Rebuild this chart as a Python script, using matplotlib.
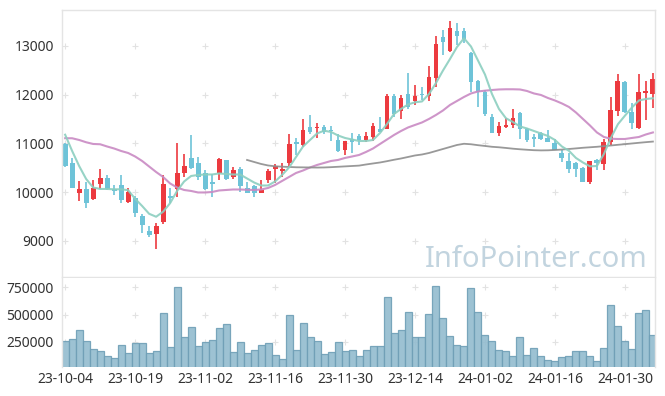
import matplotlib
matplotlib.use("Agg")

import matplotlib.pyplot as plt
import numpy as np


##############################################################
###------------------------data----------------------------###
##############################################################

open_prices  = [10990, 10594, 9991, 10067, 9862, 10169, 10292, 10067, 10149, 9794,
                9876, 9519, 9205, 9150, 9396, 9923, 10060, 10389, 10709, 10606,
                10401, 10216, 10389, 10662, 10319, 10477, 10081, 10128, 9991, 10251,
                10471, 10442, 10594, 11025, 10969, 11338, 11312, 11331, 11277, 11072,
                10867, 11086, 11154, 11072, 11127, 11297, 11303, 11974, 11667, 12015,
                11878, 12009, 11980, 12350, 13178, 12904, 13308, 13308, 12850, 12282,
                12063, 11537, 11222, 11345, 11373, 11632, 11297, 11127, 11222, 11119,
                11017, 10799, 10641, 10594, 10504, 10216, 10662, 10579, 11025, 11673,
                12255, 11652, 11312, 12042, 12009]
high_prices  = [11000, 10696, 10231, 10204, 10251, 10471, 10354, 10149, 10354, 10093,
                9923, 9545, 9308, 9363, 10354, 10081, 11004, 10778, 11174, 10717,
                10456, 10368, 10709, 10670, 10524, 10524, 10210, 10150, 10251, 10471,
                10573, 10594, 11189, 11107, 11496, 11585, 11414, 11380, 11365, 11189,
                11060, 11222, 11195, 11242, 11414, 11537, 12009, 12009, 11995, 12440,
                12200, 12165, 12590, 13211, 13328, 13519, 13466, 13363, 12883, 12300,
                12097, 11605, 11447, 11530, 11702, 11640, 11310, 11195, 11242, 11277,
                11092, 10867, 10811, 10627, 10510, 10650, 10682, 11086, 11960, 12419,
                12290, 11837, 12419, 12288, 12440]
low_prices   = [10510, 10081, 9820, 9683, 9835, 10073, 10046, 9944, 9773, 9773,
                9486, 9158, 9076, 8842, 9349, 9773, 9896, 10307, 10471, 10251,
                10046, 9896, 10251, 10251, 10278, 10005, 9978, 9896, 9980, 10183,
                10183, 10319, 10512, 10764, 10934, 11195, 11107, 11195, 11051, 10832,
                10764, 10811, 10969, 11037, 11058, 11230, 11297, 11550, 11503, 11708,
                11790, 11892, 11872, 12165, 12815, 12883, 13020, 13055, 12050, 11755,
                11570, 11209, 11160, 11312, 11312, 11099, 11037, 10922, 11072, 11030,
                10860, 10627, 10389, 10307, 10210, 10163, 10456, 10456, 10969, 11564,
                11625, 11297, 11291, 11482, 11722]
close_prices = [10545, 10093, 10067, 9773, 10087, 10292, 10060, 10032, 9841, 10011,
                9568, 9334, 9129, 9308, 10169, 9888, 10401, 10538, 10504, 10307,
                10073, 10175, 10682, 10278, 10456, 10134, 9978, 9978, 10053, 10442,
                10538, 10483, 10984, 10984, 11277, 11230, 11338, 11230, 11256, 10852,
                11051, 11037, 11072, 11160, 11359, 11242, 11980, 11605, 11927, 11755,
                11974, 11995, 12364, 13035, 13088, 13363, 13211, 13144, 12255, 12050,
                11605, 11222, 11359, 11380, 11523, 11291, 11072, 11099, 11092, 11037,
                10867, 10709, 10477, 10483, 10216, 10641, 10606, 11025, 11687, 12282,
                11640, 11427, 12063, 12083, 12323]
volumes      = [259000, 274000, 356000, 259000, 183000, 168000, 119000, 101000, 219000, 146000,
                238000, 238000, 146000, 165000, 512000, 201000, 750000, 293000, 384000, 210000,
                247000, 265000, 375000, 411000, 155000, 247000, 146000, 174000, 219000, 238000,
                128000, 91000, 494000, 174000, 420000, 293000, 256000, 137000, 155000, 247000,
                168000, 174000, 119000, 174000, 210000, 210000, 658000, 329000, 356000, 521000,
                293000, 293000, 503000, 759000, 466000, 302000, 219000, 210000, 740000, 521000,
                311000, 256000, 174000, 165000, 119000, 293000, 128000, 192000, 119000, 82000,
                73000, 110000, 119000, 165000, 165000, 119000, 73000, 192000, 585000, 393000,
                256000, 183000, 512000, 539000, 311000]

ma5  = [11180, 10846, 10538, 10272, 10097, 10067, 10067, 10060, 10060, 10042,
        9866, 9718, 9558, 9497, 9600, 9775, 10027, 10220, 10333, 10354,
        10364, 10364, 10385, 10374, 10364, 10364, 10282, 10200, 10138, 10138,
        10220, 10354, 10508, 10723, 10938, 11072, 11205, 11262, 11236, 11164,
        11113, 11082, 11051, 11051, 11072, 11215, 11400, 11605, 11708, 11800,
        11845, 11862, 12015, 12241, 12497, 12733, 12979, 13158, 12990, 12703,
        12415, 12015, 11708, 11517, 11441, 11349, 11308, 11256, 11205, 11154,
        11072, 10938, 10850, 10703, 10610, 10531, 10538, 10785, 11115, 11395,
        11570, 11738, 11882, 11913, 11927]
ma20 = [11108, 11107, 11072, 11025, 10990, 10984, 10938, 10897, 10846, 10805,
        10733, 10641, 10528, 10415, 10313, 10180, 10097, 10046, 10026, 9995,
        9995, 10005, 10036, 10046, 10056, 10056, 10050, 10046, 10056, 10087,
        10149, 10231, 10313, 10395, 10446, 10508, 10559, 10600, 10641, 10662,
        10703, 10733, 10764, 10826, 10897, 10990, 11082, 11174, 11256, 11328,
        11380, 11431, 11503, 11585, 11677, 11790, 11872, 11954, 12026, 12067,
        12083, 12097, 12108, 12112, 12112, 12108, 12077, 12026, 11995, 11933,
        11882, 11821, 11749, 11636, 11503, 11370, 11226, 11133, 11097, 11092,
        11092, 11113, 11133, 11185, 11226]
ma60_start = 26
ma60 = [10662, 10621, 10580, 10549, 10532, 10524, 10518, 10512, 10510, 10508,
        10506, 10508, 10514, 10522, 10530, 10538, 10546, 10569, 10590, 10610,
        10637, 10666, 10692, 10723, 10754, 10774, 10805, 10846, 10887, 10928,
        10969, 10994, 10984, 10965, 10949, 10932, 10922, 10908, 10893, 10881,
        10871, 10862, 10858, 10860, 10867, 10875, 10887, 10899, 10912, 10922,
        10932, 10945, 10959, 10973, 10986, 11000, 11014, 11027, 11039]

date_tick_pos    = [0, 10, 20, 30, 40, 50, 60, 70, 80]
date_tick_labels = ["23-10-04", "23-10-19", "23-11-02", "23-11-16", "23-11-30",
                    "23-12-14", "24-01-02", "24-01-16", "24-01-30"]
price_ticks      = [9000, 10000, 11000, 12000, 13000]
volume_ticks     = [250000, 500000, 750000]


##############################################################
###---------------------plot_graph-------------------------###
##############################################################

plt.rcParams["font.family"] = ["Noto Sans", "DejaVu Sans"]

color_up    = "#ec3a3f"
color_down  = "#6ec3d8"
spine_color = "#e4e4e4"
label_color = "#333333"

fig = plt.figure(figsize=(6.65, 3.96), dpi=100, facecolor="white")
ax_price  = fig.add_axes([62/665, 1-277/396, 593/665, 267/396])
ax_volume = fig.add_axes([62/665, 1-366.7/396, 593/665, 89.2/396], sharex=ax_price)

idx      = np.arange(len(close_prices))
o        = np.array(open_prices)
h        = np.array(high_prices)
l        = np.array(low_prices)
c        = np.array(close_prices)
rising   = c > o
colors   = np.where(rising, color_up, color_down)

###----------------------candles---------------------------###
ax_price.vlines(idx, l, h, colors=colors, linewidth=1.2, zorder=2)
body_low    = np.minimum(o, c)
body_height = np.maximum(np.abs(c - o), 18)
ax_price.bar(idx, body_height, bottom=body_low, width=0.7, color=colors,
             linewidth=0, zorder=2)

###------------------moving_averages-----------------------###
ax_price.plot(idx, ma20, color="#c98ac3", linewidth=1.5, alpha=0.9, zorder=3)
ax_price.plot(idx[ma60_start:], ma60, color="#8e8e8e", linewidth=1.3, alpha=0.9, zorder=3)
ax_price.plot(idx, ma5, color="#8ccfc0", linewidth=1.5, alpha=0.9, zorder=3)

###---------------------watermark--------------------------###
ax_price.text(0.988, 0.037, "InfoPointer.com", transform=ax_price.transAxes,
              ha="right", va="baseline", fontsize=21, color="#c2d4df", zorder=1)

###-----------------------volume---------------------------###
ax_volume.bar(idx, volumes, width=1.0, color="#93bccf", alpha=0.9,
              edgecolor="#6f9fb6", linewidth=0.9, zorder=2)

###--------------------axes_styling------------------------###
gx, gy = np.meshgrid(date_tick_pos, price_ticks)
ax_price.scatter(gx.ravel(), gy.ravel(), marker="+", s=20, color="#e2e2e2",
                 linewidths=0.8, zorder=1)
gx, gy = np.meshgrid(date_tick_pos, volume_ticks)
ax_volume.scatter(gx.ravel(), gy.ravel(), marker="+", s=20, color="#e2e2e2",
                  linewidths=0.8, zorder=1)

ax_price.set_xlim(-0.45, 84.3)
ax_price.set_ylim(8261, 13738)
ax_volume.set_ylim(24000, 840000)

ax_price.set_yticks(price_ticks)
ax_price.set_yticklabels([str(v) for v in price_ticks])
ax_volume.set_yticks(volume_ticks)
ax_volume.set_yticklabels([str(v) for v in volume_ticks])
ax_volume.set_xticks(date_tick_pos)
ax_volume.set_xticklabels(date_tick_labels)

ax_price.tick_params(axis="x", bottom=False, labelbottom=False)
for ax in (ax_price, ax_volume):
    ax.tick_params(axis="y", length=0, pad=6, labelsize=10, labelcolor=label_color)
    ax.tick_params(axis="x", length=0, pad=4, labelsize=10, labelcolor=label_color)
    for side in ("left", "right", "top", "bottom"):
        ax.spines[side].set_color(spine_color)
        ax.spines[side].set_linewidth(1.0)
ax_volume.spines["bottom"].set_visible(False)
ax_volume.spines["top"].set_visible(False)

fig.savefig("out.png", dpi=100, facecolor="white")
